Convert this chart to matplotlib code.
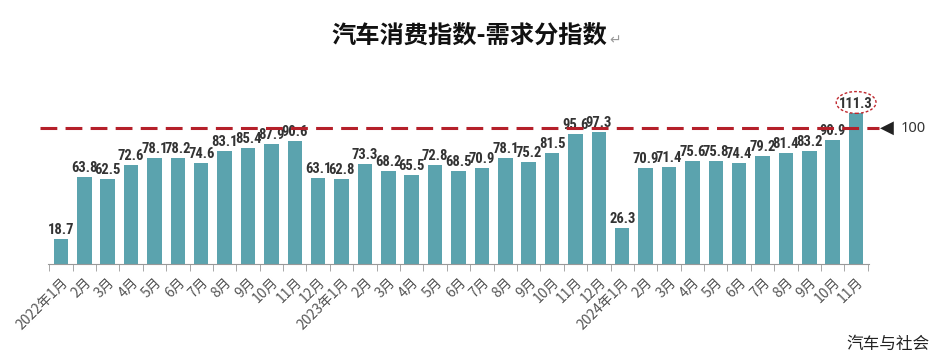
import matplotlib.pyplot as plt
import numpy as np
from matplotlib.patches import Ellipse

plt.rcParams['font.family'] = ['Noto Sans CJK SC', 'DejaVu Sans']

months = ['2022年1月', '2月', '3月', '4月', '5月', '6月', '7月', '8月', '9月', '10月', '11月', '12月',
          '2023年1月', '2月', '3月', '4月', '5月', '6月', '7月', '8月', '9月', '10月', '11月', '12月',
          '2024年1月', '2月', '3月', '4月', '5月', '6月', '7月', '8月', '9月', '10月', '11月']
values = [18.7, 63.8, 62.5, 72.6, 78.1, 78.2, 74.6, 83.1, 85.4, 87.9, 90.6, 63.1,
          62.8, 73.3, 68.2, 65.5, 72.8, 68.5, 70.9, 78.1, 75.2, 81.5, 95.6, 97.3,
          26.3, 70.9, 71.4, 75.6, 75.8, 74.4, 79.2, 81.4, 83.2, 90.9, 111.3]
baseline = 100

fig = plt.figure(figsize=(9.42, 3.59), dpi=100)
ax = fig.add_axes([0.051, 0.2646, 0.8715, 0.4735])

x = np.arange(len(values))
ax.bar(x, values, 0.62, color='#5ba3ae', zorder=2)
ax.set_xlim(-0.55, len(values) - 0.45)
ax.set_ylim(0, 125)

# condensed bold for the value labels
narrow = ['Roboto Condensed', 'DejaVu Sans Condensed', 'Liberation Sans Narrow', 'DejaVu Sans']
for i, v in enumerate(values):
    ax.text(i, v + 1.5, '%.1f' % v, ha='center', va='bottom', fontsize=10.5,
            fontweight='bold', fontstretch='condensed', color='#333333', family=narrow,
            zorder=3)

ax.axhline(baseline, xmin=-0.01, xmax=1.012, color='#b5202a', lw=2.2, dashes=(5.5, 2.7),
           clip_on=False, zorder=4)
ax.annotate('◀', xy=(1.0, baseline), xycoords=('axes fraction', 'data'),
            xytext=(8, 0), textcoords='offset points', ha='left', va='center',
            fontsize=13, color='#222222', family=['DejaVu Sans'])
ax.annotate('100', xy=(1.0, baseline), xycoords=('axes fraction', 'data'),
            xytext=(23, 0), textcoords='offset points', ha='left', va='center',
            fontsize=10.5, color='#333333', family=['Noto Sans', 'DejaVu Sans'])

ax.add_patch(Ellipse((len(values) - 1, values[-1] + 7.5), 1.7, 16, fill=False,
                     ec='#c0272d', ls=(0, (2, 1.5)), lw=1, clip_on=False, zorder=5))

ax.set_xticks(x)
ax.set_xticklabels(months, rotation=45, ha='right', rotation_mode='anchor',
                   fontsize=10, color='#555555')
ax.set_xticks(np.arange(len(values) + 1) - 0.5, minor=True)
ax.tick_params(axis='x', which='major', length=0, pad=8)
ax.tick_params(axis='x', which='minor', length=5, color='#999999')
ax.set_yticks([])
for s in ['top', 'right', 'left']:
    ax.spines[s].set_visible(False)
ax.spines['bottom'].set_color('#999999')

fig.text(0.4985, 0.897, '汽车消费指数-需求分指数', ha='center', va='center',
         fontsize=17.5, fontweight='black', color='#111111')
fig.text(0.647, 0.888, '↵', ha='left', va='center', fontsize=10, color='#999999',
         family=['DejaVu Sans'])
fig.text(0.987, 0.04, '汽车与社会', ha='right', va='center', fontsize=12, color='#222222')

fig.savefig('out.png', dpi=100)
